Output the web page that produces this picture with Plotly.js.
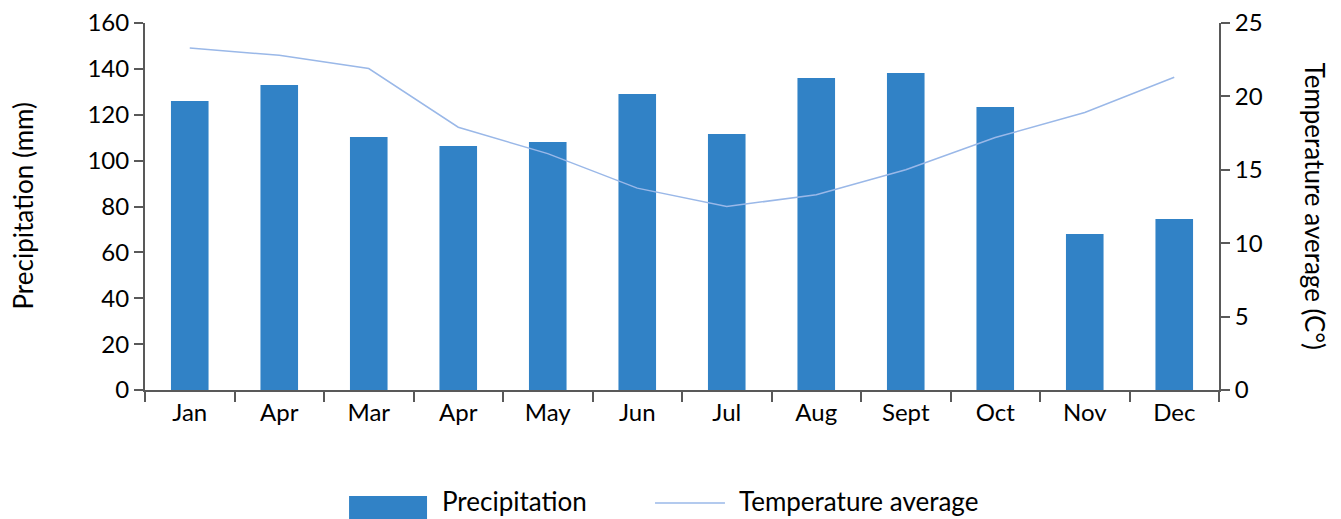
<!DOCTYPE html>
<html>
<head>
<meta charset="utf-8">
<script src="https://cdn.plot.ly/plotly-3.0.1.min.js"></script>
<style>html,body{margin:0;padding:0;background:#fff;}#chart{width:1341px;height:519px;}</style>
</head>
<body>
<div id="chart"></div>
<script>
const monthLabels = ["Jan","Apr","Mar","Apr","May","Jun","Jul","Aug","Sept","Oct","Nov","Dec"];
const precipitation = [126, 133, 110.3, 106.4, 108.1, 129, 111.6, 136, 138.2, 123.4, 68, 74.5];
const temperature = [23.3, 22.8, 21.9, 17.9, 16.1, 13.75, 12.5, 13.3, 15.0, 17.2, 18.9, 21.3];
const leftTicks = [0,20,40,60,80,100,120,140,160];
const rightTicks = [0,5,10,15,20,25];
const seriesNames = ["Precipitation", "Temperature average"];

const idx = monthLabels.map((_, i) => i);
const FONT = "Lato, Open Sans, sans-serif";
const BAR = "#3182c6", LINE = "#9ab8e8", AX = "#595959";

const traces = [
  {
    type: "bar", name: seriesNames[0], x: idx, y: precipitation,
    marker: {color: BAR}, width: 0.42, yaxis: "y"
  },
  {
    type: "scatter", mode: "lines", name: seriesNames[1], x: idx, y: temperature,
    line: {color: LINE, width: 1.5}, yaxis: "y2"
  }
];

const layout = {
  width: 1341, height: 519,
  margin: {l: 145, r: 122, t: 23, b: 129},
  paper_bgcolor: "#fff", plot_bgcolor: "#fff",
  font: {family: FONT, size: 24, color: "#000"},
  showlegend: false,
  xaxis: {
    type: "category", tickmode: "array", tickvals: idx, ticktext: monthLabels,
    tickson: "boundaries", ticks: "outside", ticklen: 10, tickwidth: 2, tickcolor: AX,
    showline: true, linecolor: AX, linewidth: 2, showgrid: false, zeroline: false,
    range: [-0.5, 11.5], tickfont: {size: 24}, automargin: false
  },
  yaxis: {
    range: [0, 160], tickvals: leftTicks, ticks: "outside", ticklen: 9, tickwidth: 2,
    tickcolor: AX, showline: true, linecolor: AX, linewidth: 2,
    showgrid: false, zeroline: false, tickfont: {size: 24}, automargin: false
  },
  yaxis2: {
    range: [0, 25], tickvals: rightTicks, overlaying: "y", side: "right",
    ticks: "outside", ticklen: 9, tickwidth: 2, tickcolor: AX,
    showline: true, linecolor: AX, linewidth: 2,
    showgrid: false, zeroline: false, tickfont: {size: 24}, automargin: false
  },
  shapes: [
    {type: "rect", xref: "paper", yref: "paper", x0: 0.19, x1: 0.2626, y0: -0.3515, y1: -0.2888,
     fillcolor: BAR, line: {width: 0}},
    {type: "line", xref: "paper", yref: "paper", x0: 0.4749, x1: 0.5400, y0: -0.3079, y1: -0.3079,
     line: {color: LINE, width: 1.5}}
  ],
  annotations: [
    {text: "Precipitation (mm)", xref: "paper", yref: "paper", x: -0.1145, y: 0.5,
     textangle: -90, showarrow: false, font: {size: 26}, xanchor: "center", yanchor: "middle"},
    {text: "Temperature average (C°)", xref: "paper", yref: "paper", x: 1.0, xshift: 96, y: 0.5,
     textangle: 90, showarrow: false, font: {size: 26}, xanchor: "center", yanchor: "middle"},
    {text: seriesNames[0], xref: "paper", yref: "paper", x: 0.2747, y: -0.3025,
     showarrow: false, font: {size: 26}, xanchor: "left", yanchor: "middle"},
    {text: seriesNames[1], xref: "paper", yref: "paper", x: 0.5512, y: -0.3025,
     showarrow: false, font: {size: 26}, xanchor: "left", yanchor: "middle"}
  ]
};

Plotly.newPlot("chart", traces, layout, {staticPlot: true, displayModeBar: false});
</script>
</body>
</html>
